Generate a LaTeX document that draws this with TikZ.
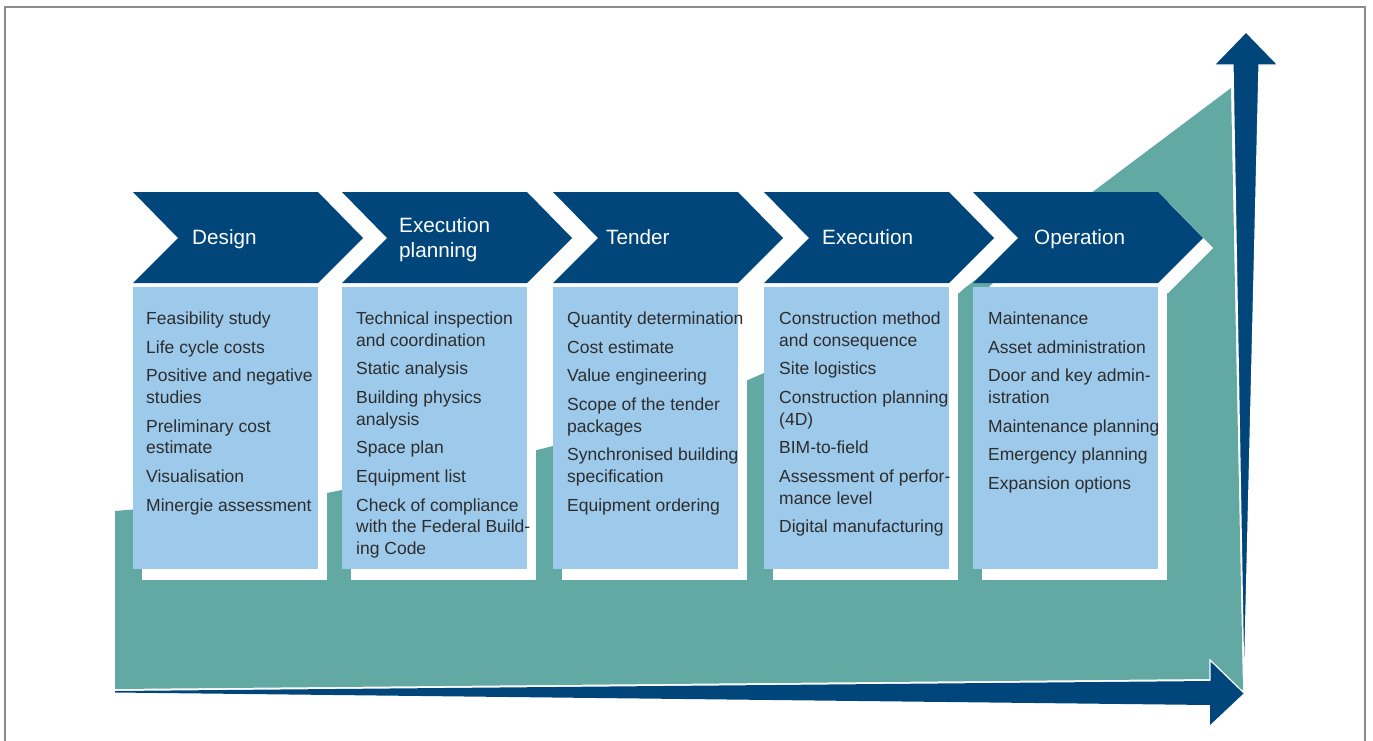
\documentclass[tikz,border=0pt]{standalone}
\usepackage{fontspec}
\setmainfont{Liberation Sans}
\definecolor{phaseblue}{RGB}{0,70,122}
\definecolor{growteal}{RGB}{98,168,163}
\definecolor{listblue}{RGB}{157,201,235}
\definecolor{listtext}{RGB}{45,45,45}
\newcommand\taskgap{7pt}

\begin{document}
\begin{tikzpicture}[x=1pt,y=-1pt,
    phase/.style={fill=phaseblue},
    backing/.style={fill=white},
    title/.style={text=white,font=\fontsize{20.7}{25}\selectfont,align=left,anchor=west,inner sep=0pt},
    tasks/.style={text=listtext,font=\fontsize{17.5}{21.7}\selectfont,align=left,anchor=north west,inner sep=0pt},
    bigarrow/.style={fill=phaseblue,draw=white,line width=1.2pt,line join=miter}]
  \useasboundingbox (0,0) rectangle (1373,740);
  \draw[gray!90,line width=1.3pt] (5,750) -- (5,7) -- (1365,7) -- (1365,750);

  % growing area behind the phases
  \fill[growteal] (115,511) -- (327,493) -- (537,450) -- (553,446) -- (748,380)
    -- (764,373) -- (958,293) -- (1231,88) -- (1243,690) -- (1210,679)
    -- (115,689) -- cycle;

  % axes
  \filldraw[bigarrow] (1244,692) -- (1233,65) -- (1214,65) -- (1246,32)
    -- (1278,65) -- (1259,65) -- cycle;
  \fill[phaseblue] (115,691) -- (1210,681) -- (1210,660) -- (1244,693)
    -- (1210,725) -- (1210,705) -- (115,692.5) -- cycle;
  \draw[white,line width=1.2pt] (1210,680.5) -- (1210,660) -- (1244,693);

  % phases
  \foreach \x/\tx/\name/\title in {133/192/design/Design,
      342/399/planning/{Execution\\planning},
      553/606/tender/Tender,
      764/822/execution/Execution,
      973/1034/operation/Operation} {
    \fill[backing] (\x+10,202) -- (\x+195,202) -- (\x+240,248) -- (\x+195,293)
      -- (\x+10,293) -- (\x+55,248) -- cycle;
    \fill[backing] (\x+9,290) rectangle (\x+194,580);
    \fill[phase] (\x,192) -- (\x+185,192) -- (\x+230,238) -- (\x+185,283)
      -- (\x,283) -- (\x+45,238) -- cycle;
    \fill[listblue] (\x,287) rectangle (\x+185,569);
    \node[title] (title-\name) at (\tx,239.5) {\vphantom{Dg}\title};
  }

  \node[tasks] (design-tasks) at (146,311.5) {Feasibility study\\[\taskgap]
    Life cycle costs\\[\taskgap] Positive and negative\\studies\\[\taskgap]
    Preliminary cost\\estimate\\[\taskgap] Visualisation\\[\taskgap]
    Minergie assessment};
  \node[tasks] (planning-tasks) at (356,311.5) {Technical inspection\\and coordination\\[\taskgap]
    Static analysis\\[\taskgap] Building physics\\analysis\\[\taskgap]
    Space plan\\[\taskgap] Equipment list\\[\taskgap]
    Check of compliance\\with the Federal Build-\\ing Code};
  \node[tasks] (tender-tasks) at (567,311.5) {Quantity determination\\[\taskgap]
    Cost estimate\\[\taskgap] Value engineering\\[\taskgap]
    Scope of the tender\\packages\\[\taskgap] Synchronised building\\specification\\[\taskgap]
    Equipment ordering};
  \node[tasks] (execution-tasks) at (779,311.5) {Construction method\\and consequence\\[\taskgap]
    Site logistics\\[\taskgap] Construction planning\\(4D)\\[\taskgap]
    BIM-to-field\\[\taskgap] Assessment of perfor-\\mance level\\[\taskgap]
    Digital manufacturing};
  \node[tasks] (operation-tasks) at (988,311.5) {Maintenance\\[\taskgap]
    Asset administration\\[\taskgap] Door and key admin-\\istration\\[\taskgap]
    Maintenance planning\\[\taskgap] Emergency planning\\[\taskgap]
    Expansion options};
\end{tikzpicture}
\end{document}
